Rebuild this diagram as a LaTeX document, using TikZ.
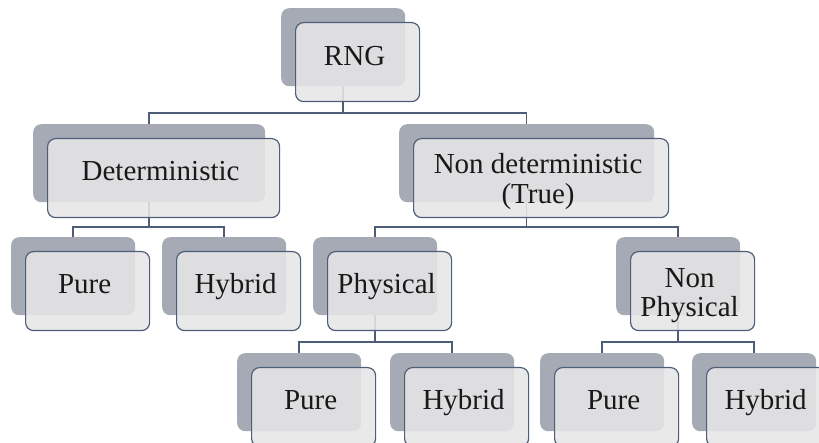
\documentclass[tikz,border=0pt]{standalone}
\usepackage{fontspec}
\setmainfont{Liberation Serif}
\pgfdeclarelayer{background}
\pgfsetlayers{background,main}
\definecolor{shadowc}{RGB}{165,170,181}
\definecolor{frontc}{RGB}{230,230,230}
\definecolor{edgec}{RGB}{78,94,120}
\definecolor{textc}{RGB}{25,25,25}
\tikzset{
  shbox/.style={fill=shadowc, rounded corners=8pt, minimum width=#1, minimum height=78pt, inner sep=0pt, anchor=north west, draw=none},
  frbox/.style={fill=frontc, fill opacity=0.88, draw=edgec, line width=1.2pt, rounded corners=8pt, minimum width=#1, minimum height=79pt, inner sep=0pt, anchor=north west},
  boxtext/.style={inner sep=0pt, align=center, text=textc, font=\fontsize{29}{29.5}\selectfont},
  conn/.style={draw=edgec, line width=1.5pt}
}
\newcommand\smartbox[6]{%
  \node[shbox=#4pt] (s#1) at (#2,#3) {};
  \node[frbox=#4pt] (#1) at ({#2+14},{#3+14}) {};
  \node[boxtext] (t#1) at ([xshift=-3pt,yshift=#6pt]#1.center) {#5};
}
\begin{document}
\begin{tikzpicture}[x=1pt,y=-1pt]
\useasboundingbox (0,0) rectangle (819,443);
\smartbox{rng}{281}{8}{124}{\strut RNG}{2.5}
\smartbox{det}{33}{124}{232}{\strut Deterministic}{3}
\smartbox{ndet}{399}{124}{255}{\strut Non deterministic\\\strut(True)}{-4.5}
\smartbox{pureA}{11}{237}{124}{\strut Pure}{3}
\smartbox{hybA}{162}{237}{124}{\strut Hybrid}{3}
\smartbox{phys}{313}{237}{124}{\strut Physical}{3}
\smartbox{nphys}{616}{237}{124}{\strut Non\\\strut Physical}{-5}
\smartbox{pureB}{237}{353}{124}{\strut Pure}{3}
\smartbox{hybB}{390}{353}{124}{\strut Hybrid}{3}
\smartbox{pureC}{540}{353}{124}{\strut Pure}{3}
\smartbox{hybC}{692}{353}{124}{\strut Hybrid}{3}
\coordinate (bar1) at (0,113);
\coordinate (bar2) at (0,227);
\coordinate (bar3) at (0,342);
\begin{pgfonlayer}{background}
\draw[conn] (srng.south) -- (srng.south |- bar1) -| (sdet.north);
\draw[conn] (srng.south) -- (srng.south |- bar1) -| (sndet.north);
\draw[conn] (sdet.south) -- (sdet.south |- bar2) -| (spureA.north);
\draw[conn] (sdet.south) -- (sdet.south |- bar2) -| (shybA.north);
\draw[conn] (sndet.south) -- (sndet.south |- bar2) -| (sphys.north);
\draw[conn] (sndet.south) -- (sndet.south |- bar2) -| (snphys.north);
\draw[conn] (sphys.south) -- (sphys.south |- bar3) -| (spureB.north);
\draw[conn] (sphys.south) -- (sphys.south |- bar3) -| (shybB.north);
\draw[conn] (snphys.south) -- (snphys.south |- bar3) -| (spureC.north);
\draw[conn] (snphys.south) -- (snphys.south |- bar3) -| (shybC.north);
\end{pgfonlayer}
\end{tikzpicture}
\end{document}
